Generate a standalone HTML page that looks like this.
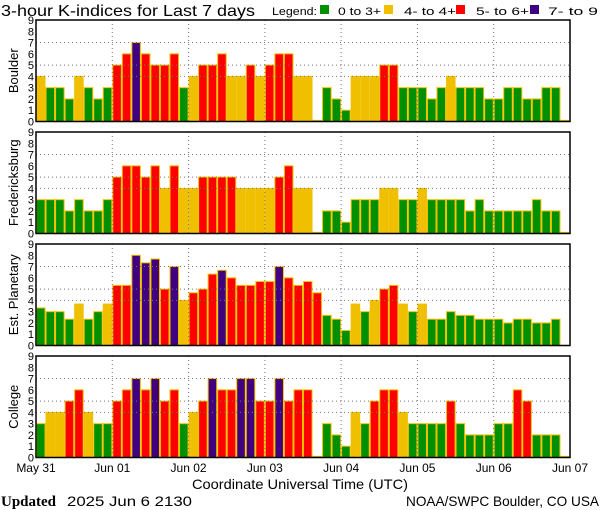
<!DOCTYPE html>
<html><head><meta charset="utf-8"><style>
html,body{margin:0;padding:0;background:#fff;width:600px;height:510px;overflow:hidden}
svg{display:block}
</style></head><body>
<svg id="chart" width="600" height="510" viewBox="0 0 600 510" xmlns="http://www.w3.org/2000/svg" font-family="'Liberation Sans', sans-serif">
<text x="1" y="16" font-size="16" textLength="254" lengthAdjust="spacingAndGlyphs">3-hour K-indices for Last 7 days</text>
<g font-size="11">
<text x="272" y="15" textLength="45" lengthAdjust="spacingAndGlyphs">Legend:</text>
<rect x="320" y="5" width="9" height="9" fill="#009000"/>
<text x="338" y="15" textLength="43" lengthAdjust="spacingAndGlyphs">0 to 3+</text>
<rect x="384" y="5" width="9" height="9" fill="#f0c000"/>
<text x="404" y="15" textLength="52" lengthAdjust="spacingAndGlyphs">4- to 4+</text>
<rect x="456" y="5" width="9" height="9" fill="#ff0000"/>
<text x="476" y="15" textLength="53" lengthAdjust="spacingAndGlyphs">5- to 6+</text>
<rect x="530" y="5" width="9" height="9" fill="#400080"/>
<text x="548" y="15" textLength="50" lengthAdjust="spacingAndGlyphs">7- to 9</text>
</g>
<g id="panels"></g>
<g id="xlabels" font-size="12"></g>
<text x="300" y="489" font-size="14" text-anchor="middle" textLength="216" lengthAdjust="spacingAndGlyphs">Coordinate Universal Time (UTC)</text>
<text x="1" y="506" font-size="15" font-weight="bold" font-family="'Liberation Serif', serif">Updated</text>
<text x="67" y="506" font-size="14" textLength="125" lengthAdjust="spacingAndGlyphs">2025 Jun  6 2130</text>
<text x="599" y="506" font-size="14" text-anchor="end" textLength="193" lengthAdjust="spacingAndGlyphs">NOAA/SWPC Boulder, CO USA</text>
</svg>
<script>
const stations = ["Boulder","Fredericksburg","Est. Planetary","College"];
const boulder = [4,3,3,2,4,3,2,3, 5,6,7,6,5,5,6,3, 4,5,5,6,4,4,5,4, 5,6,6,4,4,0,3,2, 1,4,4,4,5,5,3,3, 3,2,3,4,3,3,3,2, 2,3,3,2,2,3,3,0];
const fredericksburg = [3,3,3,2,3,2,2,3, 5,6,6,5,6,4,6,4, 4,5,5,5,5,4,4,4, 4,5,6,4,4,0,2,2, 1,3,3,3,4,4,3,3, 4,3,3,3,3,2,3,2, 2,2,2,2,3,2,2,0];
const planetary = [3.33,3,3,2.33,3.67,2.33,3,3.67, 5.33,5.33,8,7.33,7.67,5,7,4, 4.67,5,6.33,6.67,6,5.33,5.33,5.67, 5.67,7,6,5.33,5.67,4.67,2.67,2.33, 1.33,3.67,3,4,5,5.33,3.67,3, 3.67,2.33,2.33,3,2.67,2.67,2.33,2.33, 2.33,2,2.33,2.33,2,2,2.33,null];
const college = [3,4,4,5,6,4,3,3, 5,6,7,6,7,5,6,3, 4,5,7,6,6,7,7,5, 5,7,5,6,6,0,3,2, 1,4,3,5,6,6,4,3, 3,3,3,5,3,2,2,2, 3,3,6,5,2,2,2,0];
const dayLabels = ["May 31","Jun 01","Jun 02","Jun 03","Jun 04","Jun 05","Jun 06","Jun 07"];
const yTicks = [0,1,2,3,4,5,6,7,8,9];
const gridLevels = [4,5,7];

const series = [boulder, fredericksburg, planetary, college];
const NS = "http://www.w3.org/2000/svg";
const X0 = 36, X1 = 570, N = 56;
const tops = [20, 132, 244, 356];
const PH = 101.5;
const bw = (X1 - X0) / N;
function xScale(i){ return X0 + i * bw; }
function yScale(p, v){ return tops[p] + PH - v * PH / 9; }
function colorFor(v){ const r = Math.round(v); return r <= 3 ? "#009000" : r === 4 ? "#f0c000" : r <= 6 ? "#ff0000" : "#400080"; }
function mk(tag, attrs, parent){ const e = document.createElementNS(NS, tag); for (const k in attrs) e.setAttribute(k, attrs[k]); parent.appendChild(e); return e; }
const panels = document.getElementById("panels");
series.forEach((data, p) => {
  const g = mk("g", {}, panels);
  
  
  const base = yScale(p, 0);
  data.forEach((v, i) => {
    if (v === null) return;
    const h = Math.max(v, 0.1);
    const r = mk("rect", {x: xScale(i) + 0.5, y: yScale(p, h), width: bw - 1, height: base - yScale(p, h), fill: colorFor(h), stroke: "#f0c000", "stroke-width": 1}, g);
    
    
  });
  gridLevels.forEach(lv => {
    const l = mk("line", {x1: X0, x2: X1, y1: yScale(p, lv), y2: yScale(p, lv), stroke: "#777", "stroke-width": 1, "stroke-dasharray": "1,3"}, g);
    
    
  });
  for (let d = 1; d < 7; d++) {
    const x = xScale(d * 8);
    const l = mk("line", {x1: x, x2: x, y1: tops[p], y2: base, stroke: "#777", "stroke-width": 1, "stroke-dasharray": "1,3"}, g);
    
    
  }
  const fr = mk("rect", {x: X0, y: tops[p], width: X1 - X0, height: PH, fill: "none", stroke: "#000", "stroke-width": 1.5}, g);
  
  
  yTicks.forEach(t => {
    const tx = mk("text", {x: 34, y: yScale(p, t) + 4, "font-size": 11, "text-anchor": "end"}, g);
    tx.textContent = t;
    
    
  });
  const cy = tops[p] + PH / 2;
  const nm = mk("text", {x: 14, y: cy, "font-size": 13, "text-anchor": "middle", transform: "rotate(-90 14 " + cy + ")", dy: "4"}, g);
  nm.textContent = stations[p];
  
  
});
const xl = document.getElementById("xlabels");
dayLabels.forEach((d, i) => {
  const t = mk("text", {x: xScale(i * 8), y: 472, "text-anchor": "middle"}, xl);
  t.textContent = d;
  
  
});
</script>
</body></html>
